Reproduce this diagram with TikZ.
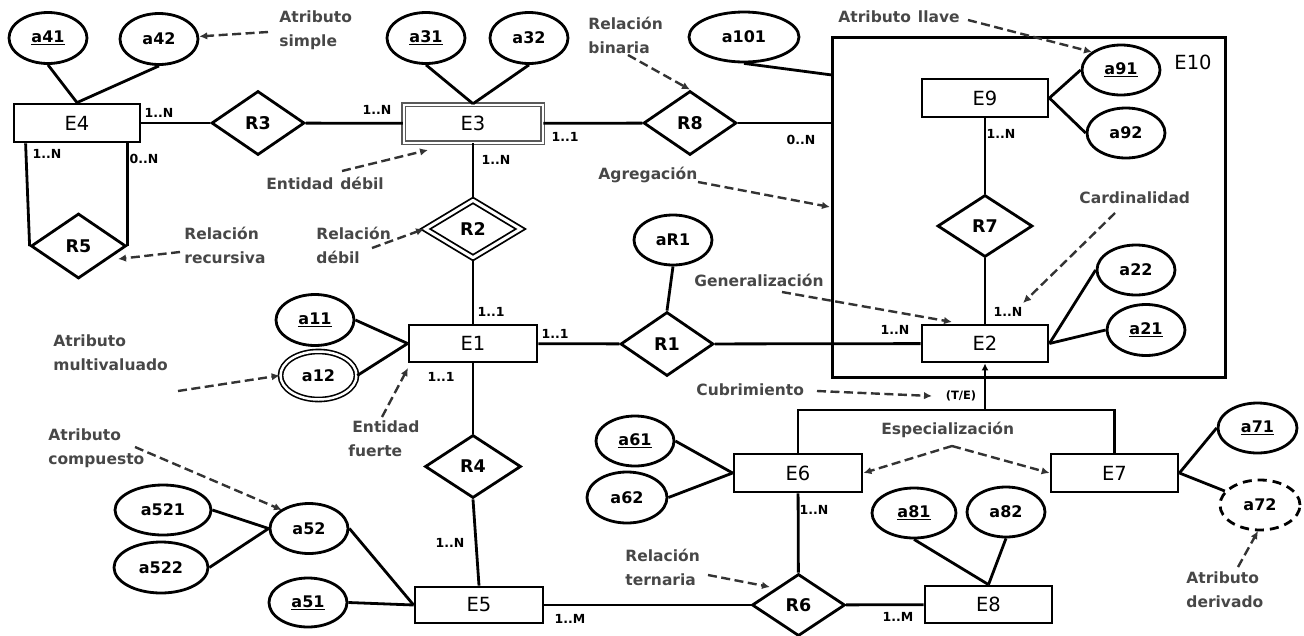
\documentclass[tikz,border=0pt]{standalone}
\usepackage{fontspec}
\setmainfont{DejaVu Sans}
\usetikzlibrary{shapes.geometric,arrows.meta}
\begin{document}
\begin{tikzpicture}[x=1pt,y=-1pt, line width=2.8pt,
 ent/.style={draw, rectangle, minimum width=126pt, minimum height=38pt, inner sep=0pt, font=\fontsize{19.5}{19.5}\selectfont},
 rel/.style={draw, diamond, minimum width=93pt, minimum height=64pt, inner sep=0pt, font=\fontsize{17.5}{17.5}\selectfont\bfseries},
 att/.style={draw, ellipse, minimum width=78pt, minimum height=51pt, inner sep=0pt, font=\fontsize{16}{16}\selectfont\bfseries},
 card/.style={inner sep=0pt, font=\fontsize{12.5}{12.5}\selectfont\bfseries},
 note/.style={inner sep=0pt, anchor=west, align=left, text=black!72, font=\fontsize{15.5}{24}\selectfont\bfseries},
 ann/.style={dash pattern=on 9pt off 4.5pt, line width=2.4pt, draw=black!80, -{Latex[length=8pt,width=7.5pt]}},
]
\useasboundingbox (0,0) rectangle (1304,635);
% ---- container
\node[draw, line width=3pt, minimum width=393pt, minimum height=340pt, inner sep=0pt] (E10box) at (1028.5,207) {};
\node[inner sep=0pt, font=\fontsize{19.5}{19.5}\selectfont] (E10) at (1193,62) {E10};
% ---- entities / relations / attributes
\node[att] (a41) at (48,38) {\underline{a41}};
\node[att] (a42) at (159,39) {a42};
\node[ent] (E4) at (77,123) {E4};
\node[rel] (R3) at (258,123) {R3};
\node[ent, draw=black!65, double, double distance=2pt, line width=1.5pt, minimum width=139pt, minimum height=38pt] (E3) at (473,123.5) {E3};
\node[att] (a31) at (426,38) {\underline{a31}};
\node[att] (a32) at (529,38) {a32};
\node[rel, minimum width=95pt, minimum height=65pt] (R5) at (78.5,246) {R5};
\node[rel, double, double distance=3pt, line width=1.8pt, minimum width=96pt, minimum height=58pt] (R2) at (473,229) {R2};
\node[rel] (R8) at (690,123) {R8};
\node[att, minimum width=110pt, minimum height=50pt] (a101) at (744,37) {a101};
\node[ent] (E9) at (985,98) {E9};
\node[att, minimum height=50pt] (a91) at (1121,70) {\underline{a91}};
\node[att, minimum height=50pt] (a92) at (1126,133) {a92};
\node[rel, minimum width=95pt, minimum height=62pt] (R7) at (985,226) {R7};
\node[att, minimum height=50pt] (a22) at (1136,270) {a22};
\node[ent, minimum height=37pt] (E2) at (985,343.5) {E2};
\node[att] (a21) at (1146,330) {\underline{a21}};
\node[ent, minimum width=128pt, minimum height=37pt] (E1) at (473,343.5) {E1};
\node[rel] (R1) at (667,344) {R1};
\node[att, minimum height=50pt] (aR1) at (673,240) {aR1};
\node[att] (a11) at (315,320) {\underline{a11}};
\node[att, double, double distance=2.5pt, line width=1.6pt, minimum width=76pt, minimum height=48pt] (a12) at (318.5,375.5) {a12};
\node[rel, minimum width=96pt, minimum height=63pt] (R4) at (473,466.5) {R4};
\node[ent, minimum width=128pt, minimum height=36pt] (E5) at (479,605) {E5};
\node[att, minimum height=50pt] (a52) at (309,528.5) {a52};
\node[att, minimum width=96pt, minimum height=50pt] (a521) at (163,510) {a521};
\node[att, minimum width=94pt, minimum height=51pt] (a522) at (161,567.5) {a522};
\node[att, minimum height=49pt] (a51) at (308,602.5) {\underline{a51}};
\node[ent, minimum width=128pt] (E6) at (798,473) {E6};
\node[ent, minimum width=127pt] (E7) at (1114.5,473) {E7};
\node[att, minimum height=50pt] (a61) at (635,441) {\underline{a61}};
\node[att, minimum width=80pt] (a62) at (627,497.5) {a62};
\node[att, minimum width=79pt, minimum height=50pt] (a71) at (1257.5,428) {\underline{a71}};
\node[att, dash pattern=on 9pt off 6pt, minimum width=80pt, minimum height=50pt] (a72) at (1260,505) {a72};
\node[att, minimum width=84pt, minimum height=50pt] (a81) at (914,513) {\underline{a81}};
\node[att, minimum height=50pt] (a82) at (1006,512) {a82};
\node[ent, minimum width=127pt, minimum height=37pt] (E8) at (988.5,604.5) {E8};
\node[rel, minimum width=93pt, minimum height=62pt] (R6) at (798.5,605) {R6};
% ---- connectors
\draw (a41.south) -- (E4.north);
\draw (a42.south) -- (E4.north);
\draw (E4) -- (R3);
\draw (R3) -- (E3);
\draw (a31.south) -- (E3.north);
\draw (a32.south) -- (E3.north);
\draw ([xshift=13pt]E4.south west) -- (R5.west);
\draw ([xshift=-14pt]E4.south east) -- (R5.east);
\draw (E3) -- (R8);
\coordinate (r8e) at (832,123);
\draw (R8.east) -- (r8e);
\coordinate (p101) at (832,75);
\draw (a101.south) -- (p101);
\draw (E3) -- (R2);
\draw (R2) -- (E1);
\draw (E1) -- (R4);
\draw (R4.south) -- (E5.north);
\draw (E1) -- (R1);
\draw (R1) -- (E2);
\draw (aR1.south) -- (R1.north);
\draw (a11.east) -- (E1.west);
\draw (a12.east) -- (E1.west);
\draw (E9) -- (R7);
\draw (R7) -- (E2);
\draw (E9.east) -- (a91.west);
\draw (E9.east) -- (a92.west);
\draw (E2.east) -- (a22.west);
\draw (E2.east) -- (a21.west);
\draw (a61.east) -- (E6.west);
\draw (a62.east) -- (E6.west);
\draw (E6) -- (R6);
\draw (E5) -- (R6);
\draw (R6) -- (E8);
\draw (a81.south) -- (E8.north);
\draw (a82.south) -- (E8.north);
\draw (E7.east) -- (a71.west);
\draw (E7.east) -- (a72);
\draw (a521.east) -- (a52.west);
\draw (a522.east) -- (a52.west);
\draw (a52.east) -- (E5.west);
\draw (a51.east) -- (E5.west);
\coordinate (gj) at (985,410);
\draw (E6.north) |- (gj) -| (E7.north);
\draw[-{Latex[length=7pt,width=7pt]}] (gj) -- (E2.south);
% ---- cardinalities
\node[card] (c1) at (159,113) {1..N};
\node[card] (c2) at (377,110) {1..N};
\node[card] (c3) at (47,154) {1..N};
\node[card] (c4) at (144,159) {0..N};
\node[card] (c5) at (565,137) {1..1};
\node[card] (c6) at (801,140) {0..N};
\node[card] (c7) at (496,160) {1..N};
\node[card] (c8) at (1001,134) {1..N};
\node[card] (c9) at (1008,312) {1..N};
\node[card] (c10) at (895,330) {1..N};
\node[card] (c11) at (491,312) {1..1};
\node[card] (c12) at (555,334) {1..1};
\node[card] (c13) at (441,377) {1..1};
\node[card] (c14) at (450,543) {1..N};
\node[card] (c15) at (570,619) {1..M};
\node[card] (c16) at (814,510) {1..N};
\node[card] (c17) at (898,617) {1..M};
\node[card, font=\fontsize{11.5}{11.5}\selectfont\bfseries] (te) at (961,396) {(T/E)};
% ---- annotations
\node[note] (nSimple) at (278,30) {Atributo\\simple};
\node[note] (nDebil) at (265,183) {Entidad\hspace{7pt}débil};
\node[note] (nRec) at (183,245) {Relación\\recursiva};
\node[note] (nRDeb) at (315,245) {Relación\\débil};
\node[note] (nBin) at (587,35) {Relación\\binaria};
\node[note] (nAgr) at (597,175) {Agregación};
\node[note] (nGen) at (693,280) {Generalización};
\node[note] (nLlave) at (837,17) {Atributo\hspace{7pt}llave};
\node[note] (nCard) at (1078,198) {Cardinalidad};
\node[note] (nMulti) at (52,353) {Atributo\\multivaluado};
\node[note] (nFuerte) at (347,439) {\hspace{4pt}Entidad\\fuerte};
\node[note] (nComp) at (47,448) {Atributo\\compuesto};
\node[note] (nCub) at (695,390) {Cubrimiento};
\node[note] (nEsp) at (880,430) {Especialización};
\node[note] (nTer) at (624,567) {Relación\\ternaria};
\node[note] (nDer) at (1185,590) {Atributo\\derivado};
% ---- annotation arrows
\coordinate (s1) at (268,32);
\draw[ann] (s1) -- (a42);
\coordinate (s2) at (342,171); \coordinate (t2) at (428,150);
\draw[ann] (s2) -- (t2);
\coordinate (s3) at (180,252); \coordinate (t3) at (118,259);
\draw[ann] (s3) -- (t3);
\coordinate (s4) at (372,248);
\draw[ann] (s4) -- (R2.west);
\coordinate (s5) at (628,55);
\draw[ann] (s5) -- (R8.north);
\coordinate (s6) at (698,182); \coordinate (t6) at (830,207);
\draw[ann] (s6) -- (t6);
\coordinate (s7) at (782,292); \coordinate (t7) at (952,322);
\draw[ann] (s7) -- (t7);
\coordinate (s8) at (968,20); \coordinate (t8) at (1092,52);
\draw[ann] (s8) -- (t8);
\coordinate (s9) at (1115,213); \coordinate (t9) at (1023,303);
\draw[ann] (s9) -- (t9);
\coordinate (s10) at (178,391);
\draw[ann] (s10) -- (a12.west);
\coordinate (s11) at (382,417); \coordinate (t11) at (408,368);
\draw[ann] (s11) -- (t11);
\coordinate (s12) at (135,447); \coordinate (t12) at (282,510);
\draw[ann] (s12) -- (t12);
\coordinate (s13) at (817,391); \coordinate (t13) at (932,396);
\draw[ann] (s13) -- (t13);
\coordinate (s14) at (952,446);
\draw[ann] (s14) -- (E6.east);
\draw[ann] (s14) -- (E7.west);
\coordinate (s15) at (708,575); \coordinate (t15) at (770,587);
\draw[ann] (s15) -- (t15);
\coordinate (s16) at (1238,567); \coordinate (t16) at (1258,531);
\draw[ann] (s16) -- (t16);
\end{tikzpicture}
\end{document}
